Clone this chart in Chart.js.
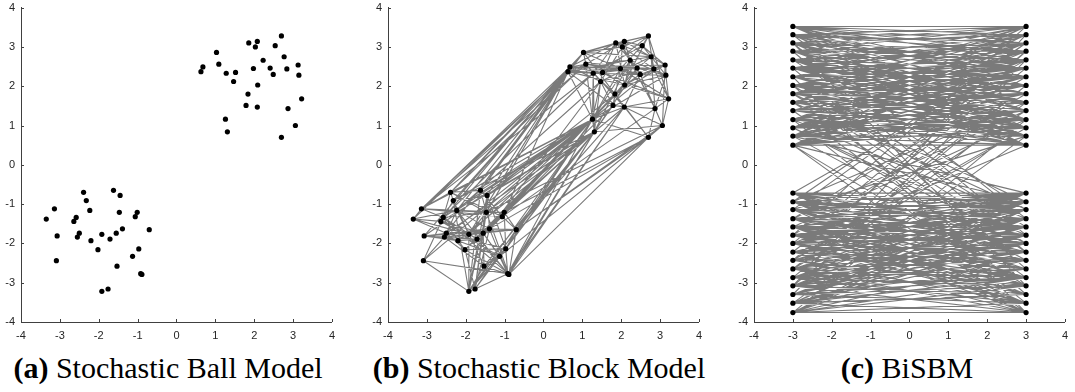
<!DOCTYPE html>
<html>
<head>
<meta charset="utf-8">
<script src="https://cdn.jsdelivr.net/npm/chart.js@4.4.1/dist/chart.umd.min.js"></script>
<style>
  html, body { margin: 0; padding: 0; background: #fff; }
  body { width: 1075px; height: 392px; position: relative; overflow: hidden; }
  canvas { position: absolute; top: -5px; }
  .cap { position: absolute; top: 353px; font-family: 'Liberation Serif', serif; font-size: 30px; line-height: 30px;
         color: #000; white-space: nowrap; transform: translateX(-50%); }
</style>
</head>
<body>
<canvas id="ball" width="342" height="350" style="left:0px"></canvas>
<canvas id="block" width="342" height="350" style="left:367px"></canvas>
<canvas id="bisbm" width="342" height="350" style="left:733px"></canvas>
<div class="cap" style="left:168px"><b>(a)</b> Stochastic Ball Model</div>
<div class="cap" style="left:539px"><b>(b)</b> Stochastic Block Model</div>
<div class="cap" style="left:907px"><b>(c)</b> BiSBM</div>
<script>
'use strict';

// upper cluster nodes (panel a and b)
const upperX = [0.63, 0.68, 1.03, 1.09, 1.28, 1.52, 1.47, 1.26, 1.31, 1.86, 2.08, 2.03, 2.23, 1.98, 2.41,
                2.49, 2.09, 1.84, 1.79, 2.08, 2.54, 2.70, 2.77, 2.84, 3.13, 3.15, 3.22, 2.87, 3.06, 2.70];
const upperY = [2.37, 2.49, 2.86, 2.56, 2.33, 2.35, 2.12, 1.16, 0.84, 3.10, 3.14, 3.00, 2.66, 2.45, 2.46,
                2.30, 2.03, 1.80, 1.51, 1.47, 3.03, 3.28, 2.75, 2.44, 2.54, 2.28, 1.68, 1.43, 1.00, 0.70];
// lower cluster nodes
const lowerX = [-3.35, -3.14, -3.07, -3.09, -2.64, -2.58, -2.50, -2.55, -2.39, -2.32, -2.23, -2.20, -2.02, -1.92, -1.92,
                -1.76, -1.71, -1.62, -1.45, -1.47, -1.55, -1.39, -1.53, -1.06, -1.01, -0.97, -1.13, -0.92, -0.89, -0.70];
const lowerY = [-1.38, -1.12, -1.81, -2.44, -1.44, -1.34, -1.74, -1.84, -0.70, -0.91, -1.16, -1.93, -2.16, -1.77, -3.22,
                -3.16, -1.89, -0.65, -0.78, -1.21, -1.74, -1.63, -2.58, -1.32, -1.21, -2.14, -2.33, -2.77, -2.79, -1.65];

// panel (b) edges, per node: neighbours with a higher index
const upperEdges = ["1 2 3 4 5 7 12 13 16 18", "2 3 5 6 9 13 14 24", "3 9 10 11 13 17 22", "4 6 7 10 12 15 19 23",
  "5 7 8 9 13 17 20 25", "6 7 9 14 16 21 26", "7 8 11 17 18 22 24", "8 12 13 16 17 19 23 25 29", "12 14 18 19 28",
  "10 11 14 16 20 22", "11 12 20 21 24", "13 15 21 23 27", "14 16 22 25 27", "15 18 20 26", "15 17 22 23 25",
  "16 19 24 27 28", "17 23 25 26", "18 19 24 29", "19 21 27", "26 28 29",
  "21 22 24 25", "23 26", "23 24 27", "24 25 26", "25 28", "26 27", "27 28", "28 29", "29", ""];
const lowerEdges = ["1 4 6 10 13", "5 8 10 19 23 24", "6 7 11 16 21 29", "5 7 14 27", "5 9 13 20 26",
  "8 11 16 19 28", "7 10 12 21 25", "11 13 20 22", "9 17 19 23", "10 14 18 22",
  "13 17 21 24 27", "12 16 26", "15 20 25 28", "14 16 19 29", "15 17 18 19 22 26",
  "18 20 21 27", "20 24 28", "18 19 23", "19 21 25", "20 24 28",
  "21 22 26", "23 27 29", "25 26 28", "24 29", "25 29", "26 27 29", "27 28", "28", "29", ""];
// panel (b) edges between clusters, per lower node: upper node indices
const crossEdges = ["0", "0 1 3 4 7", "0 7", "7", "1 8", "4 7", "0 8", "7", "0 1 3 7", "0 7 8",
  "0 6 7", "8", "7 8", "0 7", "7 8", "7 8", "7 17", "0 1 2 7", "0 7 8 17", "0 7 8 28",
  "7 8", "6 7 29", "8", "0 7 18 27", "7 8 16 29", "7 8", "8 29", "7 8 19", "8 19 29", "7 8 19 28 29"];

// panel (c): both columns share the same heights
const bipartiteLeftX = -3;
const bipartiteRightX = 3;
const bipartiteY = [3.52, 3.31, 3.10, 2.89, 2.67, 2.46, 2.24, 2.02, 1.81, 1.59, 1.38, 1.15, 0.94, 0.73, 0.50,
                    -0.72, -0.94, -1.14, -1.37, -1.58, -1.79, -2.00, -2.22, -2.43, -2.65, -2.87, -3.08, -3.30, -3.52, -3.76];
// per left node: right node indices
const bipartiteEdges = ["0 1 2 3 4 6 7 9 11 12", "0 1 2 3 5 6 8 10 13 14 18", "0 1 3 4 5 8 9 11 14 20 26",
  "0 2 3 4 5 7 9 10 12 13 22", "1 2 3 5 6 8 10 11 12 14 17", "0 2 4 5 6 7 9 11 12 13 24",
  "0 1 3 4 5 6 9 11 13 14 29", "1 2 4 5 6 8 10 12 14 19 27", "0 1 3 5 6 7 9 11 12 13 16 21",
  "0 2 4 6 7 8 10 13 14 17 22", "2 3 5 7 8 9 11 12 14 25", "1 3 5 6 8 10 12 13 14 18 28",
  "0 2 4 6 7 9 10 11 12 20 21", "0 2 5 7 8 10 11 13 14 15 23", "1 3 4 6 8 10 11 12 14 16 26 29",
  "4 15 16 17 19 20 22 24 26 27 29", "2 9 15 17 18 19 21 23 25 26 28", "2 13 15 16 18 20 21 23 25 26 29",
  "6 10 15 16 17 19 21 22 24 27 28", "11 15 16 18 19 20 22 23 25 27 29", "0 8 15 17 18 19 21 23 24 26 28",
  "3 14 15 16 17 19 20 22 25 27 28", "5 15 16 18 19 21 23 24 25 29", "3 10 12 15 16 17 20 22 23 26 28",
  "7 12 15 16 18 19 21 23 25 27 29", "7 15 16 18 20 21 22 24 26 28", "1 9 15 17 19 20 22 23 25 27 29",
  "4 16 17 18 19 20 21 24 25 26 28", "13 15 16 20 21 22 24 25 27 29", "11 15 16 17 18 20 23 25 26 28 29"];

const axisColor = '#404040';
const labelColor = '#262626';
const edgeColor = '#7a7a7a';

const ids = str => str.trim() === '' ? [] : str.trim().split(/\s+/).map(Number);

const toPoints = (xs, ys) => xs.map((x, i) => ({x: x, y: ys[i]}));

// edges as one line dataset, broken with null points
const edgeData = function(pairs) {
    let result = [];
    for (const [a, b] of pairs) {
        result.push(a, b, {x: null, y: null});
    }
    return result;
};

const upperPts = toPoints(upperX, upperY);
const lowerPts = toPoints(lowerX, lowerY);
const clusterPts = upperPts.concat(lowerPts);

let blockPairs = [];
upperEdges.forEach((s, i) => ids(s).forEach(j => blockPairs.push([upperPts[i], upperPts[j]])));
lowerEdges.forEach((s, i) => ids(s).forEach(j => blockPairs.push([lowerPts[i], lowerPts[j]])));
crossEdges.forEach((s, i) => ids(s).forEach(j => blockPairs.push([lowerPts[i], upperPts[j]])));

const leftPts = bipartiteY.map(y => ({x: bipartiteLeftX, y: y}));
const rightPts = bipartiteY.map(y => ({x: bipartiteRightX, y: y}));
let biPairs = [];
bipartiteEdges.forEach((s, i) => ids(s).forEach(j => biPairs.push([leftPts[i], rightPts[j]])));

// MATLAB style tick marks pointing into the plot
const innerTicks = {
    id: 'innerTicks',
    afterDraw(chart) {
        const ctx = chart.ctx;
        const area = chart.chartArea;
        const xs = chart.scales.x, ys = chart.scales.y;
        ctx.save();
        ctx.strokeStyle = axisColor;
        ctx.lineWidth = 1;
        ctx.beginPath();
        xs.ticks.forEach(t => {
            const px = Math.round(xs.getPixelForValue(t.value)) + 0.5;
            ctx.moveTo(px, area.bottom);
            ctx.lineTo(px, area.bottom - 3);
        });
        ys.ticks.forEach(t => {
            const py = Math.round(ys.getPixelForValue(t.value)) + 0.5;
            ctx.moveTo(area.left, py);
            ctx.lineTo(area.left + 3, py);
        });
        ctx.stroke();
        ctx.restore();
    }
};

const axis = function(isX) {
    return {
        type: 'linear',
        min: -4,
        max: 4,
        grid: {display: false, drawTicks: false},
        border: {display: true, color: axisColor, width: 1},
        ticks: {
            stepSize: 1,
            padding: isX ? 7 : 6,
            maxRotation: 0,
            color: labelColor,
            font: {family: 'Liberation Sans', size: 11}
        },
        afterFit: function(scale) {
            if (isX) scale.height = 23;
            else scale.width = 21;
        }
    };
};

const makeChart = function(id, nodes, pairs) {
    let datasets = [{
        data: nodes,
        backgroundColor: '#000',
        borderWidth: 0,
        pointRadius: 2.6
    }];
    if (pairs.length) {
        datasets.push({
            data: edgeData(pairs),
            showLine: true,
            borderColor: edgeColor,
            borderWidth: 1.1,
            pointRadius: 0,
            fill: false
        });
    }
    return new Chart(document.getElementById(id), {
        type: 'scatter',
        data: {datasets: datasets},
        options: {
            responsive: false,
            animation: false,
            layout: {padding: {top: 0, right: 7, left: 0, bottom: 0}},
            plugins: {legend: {display: false}, tooltip: {enabled: false}},
            scales: {x: axis(true), y: axis(false)}
        },
        plugins: [innerTicks]
    });
};

makeChart('ball', clusterPts, []);
makeChart('block', clusterPts, blockPairs);
makeChart('bisbm', leftPts.concat(rightPts), biPairs);
</script>
</body>
</html>
